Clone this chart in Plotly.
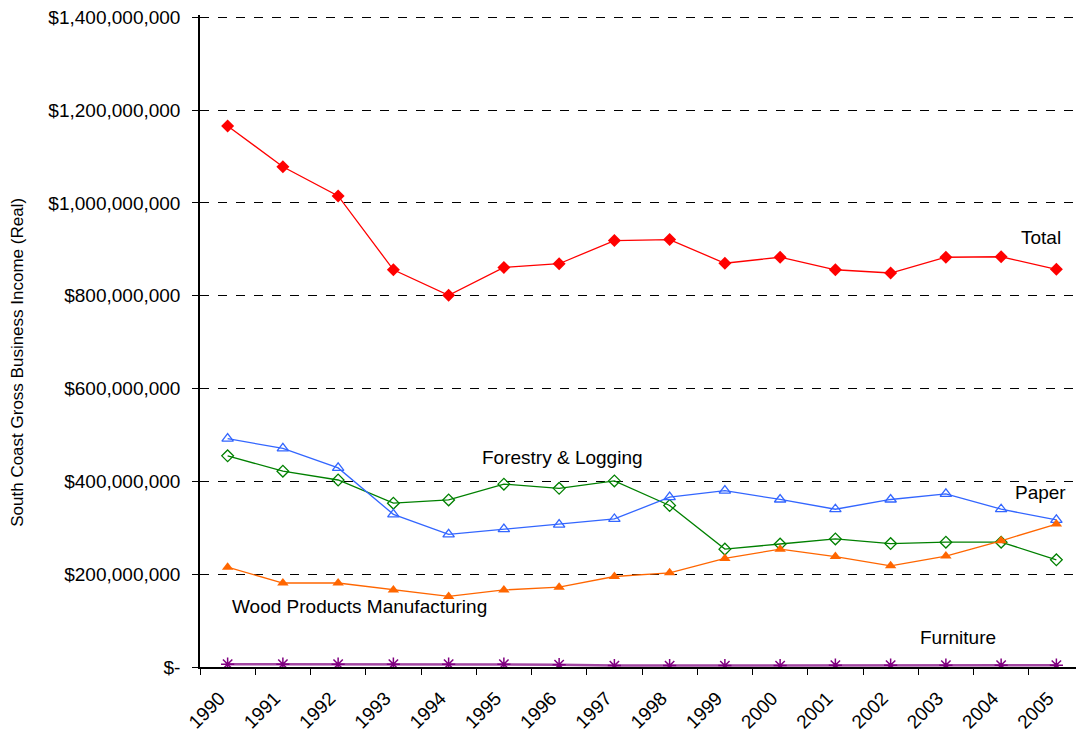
import plotly.graph_objects as go

years = [str(y) for y in range(1990, 2006)]

total = [1166e6, 1078e6, 1015e6, 856e6, 801e6, 861e6, 869e6, 919e6,
         921e6, 870e6, 883e6, 856e6, 849e6, 883e6, 884e6, 857e6]
paper = [492e6, 471e6, 429e6, 329e6, 286e6, 297e6, 307e6, 319e6,
         366e6, 380e6, 361e6, 340e6, 361e6, 373e6, 340e6, 317e6]
forestry = [455e6, 422e6, 403e6, 353e6, 360e6, 394e6, 385e6, 401e6,
            348e6, 254e6, 265e6, 276e6, 266e6, 269e6, 269e6, 231e6]
wood = [215e6, 181e6, 181e6, 166e6, 152e6, 166e6, 172e6, 195e6,
        203e6, 234e6, 254e6, 238e6, 218e6, 239e6, 272e6, 308e6]
furniture = [6e6, 6e6, 6e6, 6e6, 6e6, 6e6, 5e6, 3e6,
             3e6, 3e6, 3e6, 4e6, 4e6, 4e6, 4e6, 4e6]

y_ticks = [0, 200e6, 400e6, 600e6, 800e6, 1000e6, 1200e6, 1400e6]
y_labels = ['$-', '$200,000,000', '$400,000,000', '$600,000,000', '$800,000,000',
            '$1,000,000,000', '$1,200,000,000', '$1,400,000,000']

FONT = 'Liberation Sans, Arial, sans-serif'

fig = go.Figure()
fig.add_trace(go.Scatter(x=years, y=forestry, name='Forestry & Logging', mode='lines+markers',
                         line=dict(color='#008000', width=1.3),
                         marker=dict(symbol='diamond-open', size=9, color='#008000',
                                     line=dict(width=1.3))))
fig.add_trace(go.Scatter(x=years, y=paper, name='Paper', mode='lines+markers',
                         line=dict(color='#3366FF', width=1.3),
                         marker=dict(symbol='triangle-up-open', size=10, color='#3366FF',
                                     line=dict(width=1.3))))
fig.add_trace(go.Scatter(x=years, y=wood, name='Wood Products Manufacturing', mode='lines+markers',
                         line=dict(color='#FF6600', width=1.3),
                         marker=dict(symbol='triangle-up', size=10, color='#FF6600')))
fig.add_trace(go.Scatter(x=years, y=furniture, name='Furniture', mode='lines+markers',
                         line=dict(color='#A347A3', width=2.5),
                         marker=dict(symbol='asterisk-open', size=11, color='#800080',
                                     line=dict(width=1.5, color='#800080'))))
fig.add_trace(go.Scatter(x=years, y=total, name='Total', mode='lines+markers',
                         line=dict(color='#FF0000', width=1.3),
                         marker=dict(symbol='diamond', size=10, color='#FF0000')))

# series labels placed beside the lines
labels = [('Total', 14.72, 925e6), ('Forestry & Logging', 6.07, 452e6), ('Paper', 14.72, 377e6),
          ('Wood Products Manufacturing', 2.39, 130e6), ('Furniture', 13.22, 63e6)]
for txt, xi, yv in labels:
    fig.add_annotation(x=xi, y=yv, xref='x', yref='y', text=txt, showarrow=False,
                       font=dict(family=FONT, size=19, color='black'))

fig.add_annotation(x=-0.206, y=0.468, xref='paper', yref='paper', textangle=-90,
                   xanchor='center', yanchor='middle',
                   text='South Coast Gross Business Income (Real)', showarrow=False,
                   font=dict(family=FONT, size=17, color='black'))

fig.update_layout(
    template='none',
    width=1076, height=724,
    margin=dict(l=192, r=0, t=6.7, b=65),
    paper_bgcolor='white', plot_bgcolor='white',
    showlegend=False,
    font=dict(family=FONT, size=19, color='black'),
    xaxis=dict(type='category', range=[-0.5, 15.5], tickangle=-45, showgrid=False,
               ticks='outside', ticklen=6, tickson='boundaries', tickcolor='black',
               ticklabelstandoff=11, ticklabelshift=-8,
               showline=True, linecolor='black', linewidth=1.5, automargin=False,
               zeroline=False),
    yaxis=dict(range=[0, 1405e6], tickvals=y_ticks, ticktext=y_labels,
               showgrid=True, gridcolor='black', griddash='dash', gridwidth=1,
               ticks='outside', ticklen=6, tickcolor='black', ticklabelstandoff=8,
               ticklabeloverflow='allow',
               showline=True, linecolor='black', linewidth=1.5, automargin=False,
               zeroline=False),
)

fig.write_html("out.html")
